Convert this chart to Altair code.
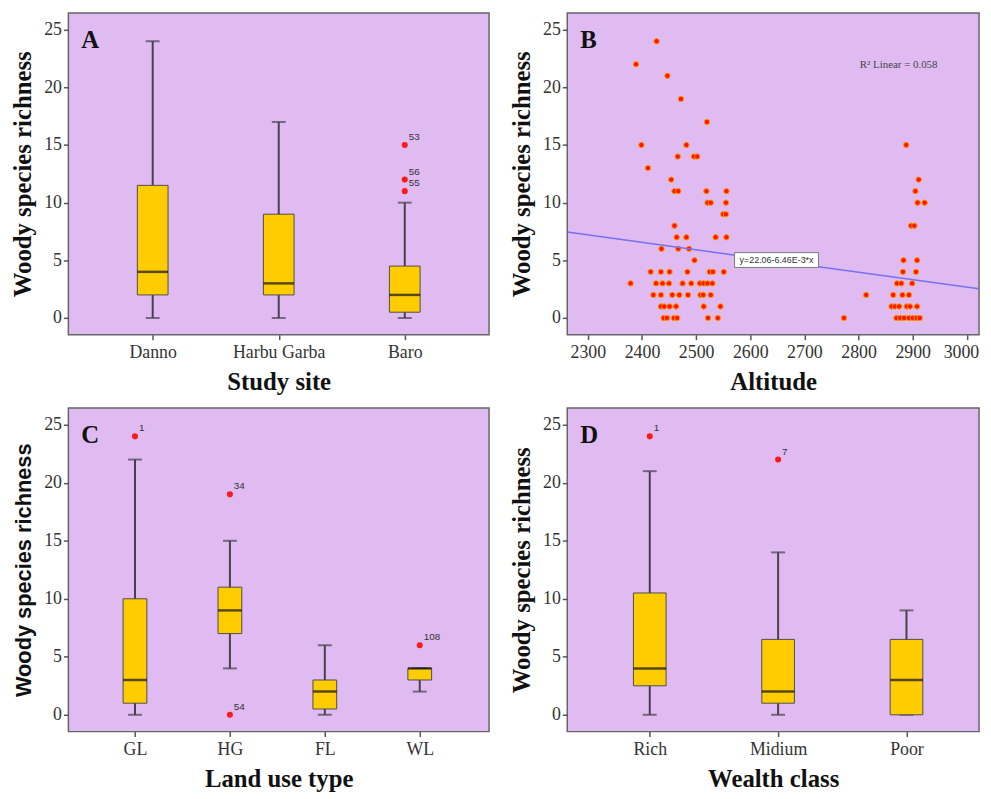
import altair as alt
import pandas as pd

SERIF = "Liberation Serif"
SANS = "Liberation Sans"
BG = "#DFBBF1"
BOX = "#FFCC00"
WHISK = "#46404c"

# ---------------- Panel A: study site ----------------
site_cat = ["Danno", "Harbu Garba", "Baro"]
site_lo = [0, 0, 0]
site_q1 = [2, 2, 0.5]
site_med = [4, 3, 2]
site_q3 = [11.5, 9, 4.5]
site_hi = [24, 17, 10]
site_out_cat = ["Baro", "Baro", "Baro"]
site_out_val = [15, 12, 11]
site_out_lab = ["53", "56", "55"]

# ---------------- Panel C: land use type ----------------
land_cat = ["GL", "HG", "FL", "WL"]
land_lo = [0, 4, 0, 2]
land_q1 = [1, 7, 0.5, 3]
land_med = [3, 9, 2, 4]
land_q3 = [10, 11, 3, 4]
land_hi = [22, 15, 6, 4]
land_out_cat = ["GL", "HG", "HG", "WL"]
land_out_val = [24, 19, 0, 6]
land_out_lab = ["1", "34", "54", "108"]

# ---------------- Panel D: wealth class ----------------
wealth_cat = ["Rich", "Midium", "Poor"]
wealth_lo = [0, 0, 0]
wealth_q1 = [2.5, 1, 0]
wealth_med = [4, 2, 3]
wealth_q3 = [10.5, 6.5, 6.5]
wealth_hi = [21, 14, 9]
wealth_out_cat = ["Rich", "Midium"]
wealth_out_val = [24, 22]
wealth_out_lab = ["1", "7"]

# ---------------- Panel B: altitude scatter ----------------
altitude = [
    2427, 2389, 2447, 2472, 2520, 2399, 2482, 2466, 2496, 2502, 2411, 2454,
    2460, 2467, 2519, 2556, 2521, 2527, 2555, 2550, 2555, 2460, 2464, 2482,
    2536, 2556, 2436, 2467, 2487, 2497,
    2416, 2435, 2451, 2484, 2525, 2531, 2551,
    2379, 2426, 2438, 2450, 2475, 2491, 2507, 2514, 2521, 2530,
    2421, 2435, 2456, 2469, 2485, 2508, 2513, 2527,
    2435, 2441, 2451, 2463, 2514, 2545,
    2440, 2446, 2459, 2465, 2522, 2540,
    2888, 2911, 2905, 2909, 2922, 2897, 2903, 2883, 2908, 2882, 2906,
    2871, 2879, 2899, 2814, 2864, 2881, 2893,
    2861, 2867, 2875, 2889, 2895, 2908,
    2773, 2870, 2877, 2884, 2893, 2900, 2907, 2913,
]
richness = [
    24, 22, 21, 19, 17, 15, 15, 14, 14, 14, 13, 12,
    11, 11, 11, 11, 10, 10, 10, 9, 9, 8, 7, 7,
    7, 7, 6, 6, 6, 5,
    4, 4, 4, 4, 4, 4, 4,
    3, 3, 3, 3, 3, 3, 3, 3, 3, 3,
    2, 2, 2, 2, 2, 2, 2, 2,
    1, 1, 1, 1, 1, 1,
    0, 0, 0, 0, 0, 0,
    15, 12, 11, 10, 10, 8, 8, 5, 5, 4, 4,
    3, 3, 3, 2, 2, 2, 2,
    1, 1, 1, 1, 1, 1,
    0, 0, 0, 0, 0, 0, 0, 0,
]
reg_intercept = 22.06
reg_slope = -6.46e-3
alt_domain = [2262, 3022.5]
alt_ticks = [2300, 2400, 2500, 2600, 2700, 2800, 2900, 3000]
eq_text = "y=22.06-6.46E-3*x"
r2_text = "R\u00b2 Linear = 0.058"

YDOM = [-1.45, 26.45]
YTICKS = [0, 5, 10, 15, 20, 25]
YTITLE = "Woody species richness"


def yaxis(font=SERIF, size=25, weight="bold"):
    return alt.Axis(title=YTITLE, values=YTICKS, domain=False, grid=False,
                    tickSize=5, tickColor="#555555", tickWidth=1.5,
                    labelFont=SERIF, labelFontSize=18, labelColor="#333333", labelPadding=2,
                    titleFont=font, titleFontSize=size, titleFontWeight=weight,
                    titleColor="#111111", titlePadding=8)


def xaxis(title, **kw):
    return alt.Axis(title=title, labelAngle=0, domain=False, grid=False,
                    tickSize=5, tickColor="#555555", tickWidth=1.5,
                    labelFont=SERIF, labelFontSize=18, labelColor="#333333", labelPadding=4,
                    titleFont=SERIF, titleFontSize=25, titleFontWeight="bold",
                    titleColor="#111111", titlePadding=8, **kw)


def letter_layer(letter):
    ld = pd.DataFrame({"t": [letter]})
    return alt.Chart(ld).mark_text(align="left", baseline="alphabetic", font=SERIF,
                                   fontSize=25, fontWeight="bold", color="#111111").encode(
        x=alt.value(13), y=alt.value(35), text="t:N")


def box_panel(cats, lo, q1, med, q3, hi, ocat, oval, olab, letter, xtitle,
              pad, align, boxw, width, height, yax):
    df = pd.DataFrame({"cat": cats, "lo": lo, "q1": q1, "med": med, "q3": q3, "hi": hi})
    od = pd.DataFrame({"cat": ocat, "val": oval, "lab": olab})
    x = alt.X("cat:N", sort=cats, scale=alt.Scale(type="point", padding=pad, align=align),
              axis=xaxis(xtitle))
    ysc = alt.Scale(domain=YDOM, nice=False, zero=False)

    def Y(f):
        return alt.Y(f"{f}:Q", scale=ysc, axis=yax)

    whisk = alt.Chart(df).mark_rule(color=WHISK, strokeWidth=2).encode(x=x, y=Y("lo"), y2="hi:Q")
    cap_lo = alt.Chart(df).mark_tick(color=WHISK, size=14, thickness=2).encode(x=x, y=Y("lo"))
    cap_hi = alt.Chart(df).mark_tick(color=WHISK, size=14, thickness=2).encode(x=x, y=Y("hi"))
    box = alt.Chart(df).mark_bar(size=boxw, fill=BOX, stroke="#4d4d4d", strokeWidth=1).encode(
        x=x, y=Y("q1"), y2="q3:Q")
    medl = alt.Chart(df).mark_tick(color="#111111", size=boxw, thickness=2.5).encode(x=x, y=Y("med"))
    pts = alt.Chart(od).mark_circle(size=38, color="#FF1A1A", opacity=1).encode(x=x, y=Y("val"))
    lab = alt.Chart(od).mark_text(align="left", baseline="middle", dx=4, dy=-8, font=SANS,
                                  fontSize=10, color="#333333").encode(x=x, y=Y("val"), text="lab:N")
    return alt.layer(whisk, cap_lo, cap_hi, box, medl, pts, lab, letter_layer(letter)).properties(
        width=width, height=height)


panel_a = box_panel(site_cat, site_lo, site_q1, site_med, site_q3, site_hi,
                    site_out_cat, site_out_val, site_out_lab, "A", "Study site",
                    0.669, 0.5, 31, 425, 325, yaxis())

panel_c = box_panel(land_cat, land_lo, land_q1, land_med, land_q3, land_hi,
                    land_out_cat, land_out_val, land_out_lab, "C", "Land use type",
                    0.716, 0.49, 24, 425, 327, yaxis(font=SANS, size=22, weight="bold"))

panel_d = box_panel(wealth_cat, wealth_lo, wealth_q1, wealth_med, wealth_q3, wealth_hi,
                    wealth_out_cat, wealth_out_val, wealth_out_lab, "D", "Wealth class",
                    0.604, 0.532, 33, 416, 327, yaxis())

# ----- Panel B -----
xscB = alt.Scale(domain=alt_domain, nice=False, zero=False)
yscB = alt.Scale(domain=YDOM, nice=False, zero=False)
xaxB = xaxis("Altitude", values=alt_ticks, format="d", labelFlush=15, labelFlushOffset=12)
yaxB = yaxis()


def XB(f):
    return alt.X(f"{f}:Q", scale=xscB, axis=xaxB)


def YB(f):
    return alt.Y(f"{f}:Q", scale=yscB, axis=yaxB)


dfB = pd.DataFrame({"alt": altitude, "rich": richness})
pointsB = alt.Chart(dfB).mark_circle(size=30, color="#FF1500", stroke="#FF9A00",
                                     strokeWidth=1, opacity=1).encode(x=XB("alt"), y=YB("rich"))
dfL = pd.DataFrame({"alt": alt_domain,
                    "rich": [reg_intercept + reg_slope * v for v in alt_domain]})
lineB = alt.Chart(dfL).mark_line(color="#7770F2", strokeWidth=1.5).encode(x=XB("alt"), y=YB("rich"))

eq_box = pd.DataFrame({"alt": [2571], "alt2": [2726], "rich": [4.38], "rich2": [5.67],
                       "xc": [2648.5], "yc": [5.02], "t": [eq_text]})
rectB = alt.Chart(eq_box).mark_rect(fill="white", stroke="#7a7a7a", strokeWidth=1).encode(
    x=XB("alt"), x2="alt2:Q", y=YB("rich"), y2="rich2:Q")
eqB = alt.Chart(eq_box).mark_text(font=SANS, fontSize=9, color="#333333").encode(
    x=XB("xc"), y=YB("yc"), text="t:N")
r2_df = pd.DataFrame({"xc": [2874], "yc": [21.9], "t": [r2_text]})
r2B = alt.Chart(r2_df).mark_text(font=SERIF, fontSize=11, color="#444444").encode(
    x=XB("xc"), y=YB("yc"), text="t:N")

panel_b = alt.layer(pointsB, lineB, rectB, eqB, r2B, letter_layer("B")).properties(
    width=416, height=325)

chart = alt.concat(panel_a, panel_b, panel_c, panel_d, columns=2,
                   spacing={"row": 74, "column": 79}, bounds="flush").properties(
    padding={"left": 2, "top": 0, "right": 0, "bottom": 0}
).configure_view(fill=BG, stroke="#666666", strokeWidth=1.5)

chart.save("out.html", embed_options={"renderer": "svg", "actions": False})
